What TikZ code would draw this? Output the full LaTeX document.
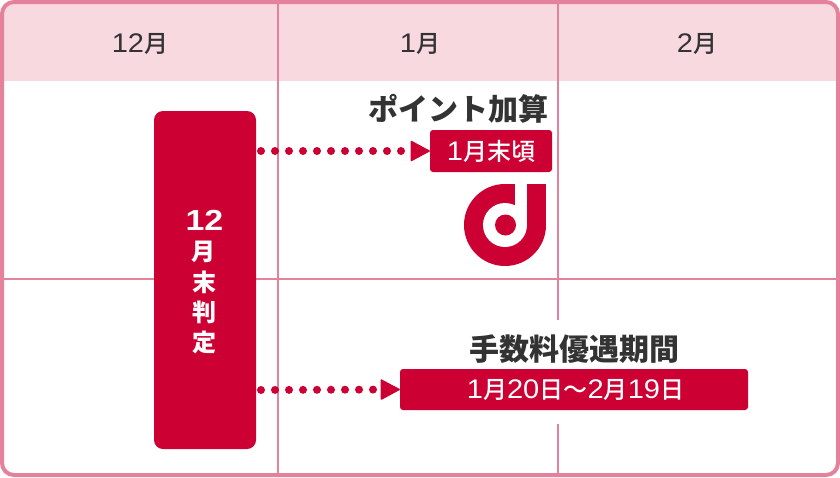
\documentclass[tikz,border=0pt]{standalone}
\usepackage{fontspec}
\setmainfont{Noto Sans CJK JP}
\newfontfamily\medfont{Noto Sans CJK JP Medium}
\newfontfamily\digitfont[Scale=1.12,FakeStretch=1.08]{Liberation Sans}
\newfontfamily\bigdigit[FakeStretch=1.17]{Liberation Sans Bold}
\newcommand{\dg}[1]{{\digitfont #1}}
\usetikzlibrary{arrows.meta}
\definecolor{brand}{HTML}{CC0033}
\definecolor{rule}{HTML}{E5829B}
\definecolor{head}{HTML}{F7D9DF}
\definecolor{ink}{HTML}{333333}
\tikzset{
  x=1pt,y=-1pt,
  grid/.style={draw=rule,line width=2pt},
  month/.style={text=ink,font=\medfont\fontsize{24}{24}\selectfont,inner sep=0pt},
  title/.style={text=ink,font=\bfseries\fontsize{30}{30}\selectfont,inner sep=0pt},
  tag/.style={fill=brand,rounded corners=3pt,text=white,inner sep=0pt,font=\medfont\fontsize{24}{24}\selectfont},
  barword/.style={text=white,font=\bfseries\fontsize{24}{24}\selectfont,inner sep=0pt},
  link/.style={draw=brand,line width=8pt,line cap=round,dash pattern=on 0pt off 14pt,dash phase=9pt,
    -{Triangle[length=20pt,width=21pt,round,fill=brand,line width=1.5pt]}},
}
\begin{document}
\begin{tikzpicture}
\useasboundingbox (0,0) rectangle (840,477);
\fill[white] (2,2) rectangle (838,475);
\begin{scope}
\clip[rounded corners=12pt] (2,2) rectangle (838,475);
\fill[head] (0,0) rectangle (840,81);
\end{scope}
\draw[grid] (4,279) -- (836,279);
\draw[grid] (278,2) -- (278,475);
\draw[grid] (558,2) -- (558,320);
\draw[grid] (558,424) -- (558,475);
\draw[draw=rule,line width=4pt,rounded corners=12pt] (2,2) rectangle (838,475);
\node[month] (m12) at (140,44) {\dg{12}月};
\node[month] (m1) at (420,44) {\dg{1}月};
\node[month] (m2) at (697,44) {\dg{2}月};
\node[fill=brand,rounded corners=9pt,minimum width=102pt,minimum height=338pt,inner sep=0pt] (bar) at (205,280) {};
\node[text=white,font=\bigdigit\fontsize{29}{29}\selectfont,inner sep=0pt] (bar12) at (204.5,220.5) {12};
\node[barword] (b1) at (203,252) {月};
\node[barword] (b2) at (204,282) {末};
\node[barword] (b3) at (204,312) {判};
\node[barword] (b4) at (204,342) {定};
\node[title] (t1) at (458.5,109) {ポイント加算};
\node[tag,minimum width=122pt,minimum height=42pt] (tag1) at (491,151) {\dg{1}月末頃};
\node[title] (t2) at (574,349) {手数料優遇期間};
\node[tag,minimum width=348pt,minimum height=41pt] (tag2) at (574,389.5) {\hspace{3pt}\addfontfeature{LetterSpace=1}\dg{1}月\dg{20}日～\dg{2}月\dg{19}日};
\coordinate (s1) at (256,151);
\coordinate (s2) at (256,390);
\draw[link] (s1) -- (tag1.west);
\draw[link] (s2) -- (tag2.west);
% d logo
\fill[brand] (505,225) circle[radius=41];
\fill[brand] (505,184) rectangle (546,225);
\fill[white] (505,225) circle[radius=22];
\fill[white] (515,184) rectangle (527,225);
\fill[brand] (505.5,225) circle[radius=10.5];
\end{tikzpicture}
\end{document}
